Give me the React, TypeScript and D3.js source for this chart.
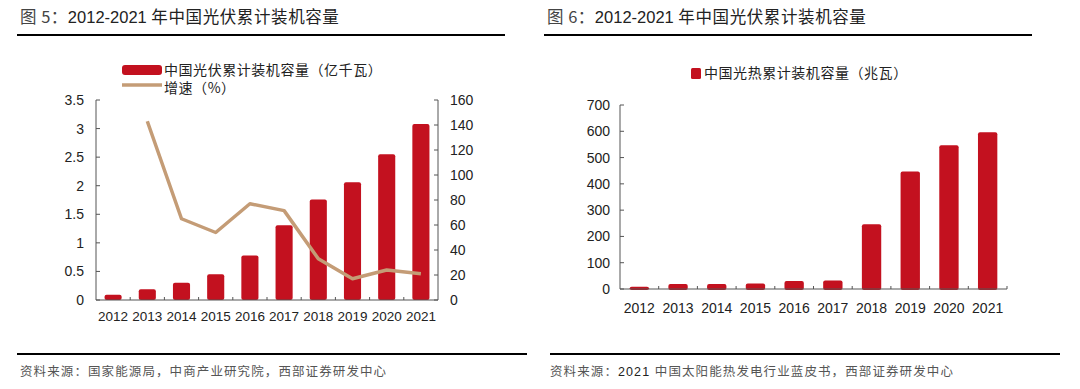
import React from 'react';
import * as d3 from 'd3';

const years = ['2012', '2013', '2014', '2015', '2016', '2017', '2018', '2019', '2020', '2021'];
// 图5: 光伏累计装机容量（亿千瓦）与增速（%）
const pvCapacity = [0.09, 0.19, 0.3, 0.45, 0.78, 1.31, 1.76, 2.06, 2.55, 3.08];
const pvGrowth: (number | null)[] = [null, 143, 65, 54, 77, 71.5, 33, 17, 24, 21];
const pvLeftTicks = [0, 0.5, 1, 1.5, 2, 2.5, 3, 3.5];
const pvRightTicks = [0, 20, 40, 60, 80, 100, 120, 140, 160];
// 图6: 光热累计装机容量（兆瓦）
const cspCapacity = [9, 19, 19, 21, 30, 32, 246, 447, 547, 596];
const cspTicks = [0, 100, 200, 300, 400, 500, 600, 700];

const RED = '#C3111F';
const TAN = '#C49C76';
const NUM_FONT = '"Liberation Sans", Arial, sans-serif';
const CJK_FONT = '"Noto Sans CJK SC", "Liberation Sans", sans-serif';

const fmt = (v: number) => String(v);

const PvChart: React.FC = () => {
  const x = d3.scaleBand<string>().domain(years).range([96, 438]).paddingInner(0.5).paddingOuter(0.25);
  const yL = d3.scaleLinear().domain([0, 3.5]).range([300, 100]);
  const yR = d3.scaleLinear().domain([0, 160]).range([300, 100]);
  const step = x.step();
  const line = d3.line<number | null>()
    .defined(d => d !== null)
    .x((_, i) => (x(years[i]) as number) + x.bandwidth() / 2)
    .y(d => yR(d as number));

  return (
    <g>
      <text x={20} y={23} fontSize={16.5} fill="#222" fontFamily={CJK_FONT}>
        <tspan fill="#444" letterSpacing={0.5}>图 5：</tspan>
        <tspan fontFamily={NUM_FONT}>2012-2021 </tspan>
        <tspan letterSpacing={0.6}>年中国光伏累计装机容量</tspan>
      </text>
      <line x1={17} x2={505} y1={35} y2={35} stroke="#000" strokeWidth={2} />

      {/* legend */}
      <rect x={122} y={65} width={40} height={10} fill={RED} rx={3} />
      <text x={164} y={75} fontSize={14} letterSpacing={0.55} fill="#222" fontFamily={CJK_FONT}>中国光伏累计装机容量（亿千瓦）</text>
      <line x1={122} x2={162} y1={85} y2={85} stroke={TAN} strokeWidth={3.5} />
      <text x={164} y={93} fontSize={14} letterSpacing={0.55} fill="#222" fontFamily={CJK_FONT}>增速（%）</text>

      {/* bars */}
      {pvCapacity.map((v, i) => (
        <rect key={years[i]} x={x(years[i])} y={yL(v)} width={x.bandwidth()} height={yL(0) - yL(v)}
          fill={RED} rx={2} />
      ))}

      {/* axes */}
      <line x1={96} x2={96} y1={100} y2={300} stroke="#555" />
      <line x1={438} x2={438} y1={100} y2={300} stroke="#555" />
      <line x1={96} x2={438} y1={300} y2={300} stroke="#555" />
      {pvLeftTicks.map(t => (
        <g key={'l' + t}>
          <line x1={96} x2={100} y1={yL(t)} y2={yL(t)} stroke="#555" />
          <text x={84} y={yL(t) + 5} textAnchor="end" fontSize={14} fill="#222" fontFamily={NUM_FONT}>{fmt(t)}</text>
        </g>
      ))}
      {pvRightTicks.map(t => (
        <g key={'r' + t}>
          <line x1={434} x2={438} y1={yR(t)} y2={yR(t)} stroke="#555" />
          <text x={450} y={yR(t) + 5} fontSize={14} fill="#222" fontFamily={NUM_FONT}>{fmt(t)}</text>
        </g>
      ))}
      {years.map((yr, i) => (
        <g key={yr}>
          {i > 0 && <line x1={96 + i * step} x2={96 + i * step} y1={300} y2={297} stroke="#555" />}
          <text x={(x(yr) as number) + x.bandwidth() / 2} y={321} textAnchor="middle" fontSize={13.5}
            fill="#222" fontFamily={NUM_FONT}>{yr}</text>
        </g>
      ))}

      <path d={line(pvGrowth) || ''} fill="none" stroke={TAN} strokeWidth={3.5} strokeLinejoin="round" />

      <line x1={17} x2={527} y1={354} y2={354} stroke="#000" strokeWidth={2} />
      <text x={20} y={376} fontSize={12.5} letterSpacing={1.1} fill="#555" fontFamily={CJK_FONT}>资料来源：国家能源局，中商产业研究院，西部证券研发中心</text>
    </g>
  );
};

const CspChart: React.FC = () => {
  const x = d3.scaleBand<string>().domain(years).range([620, 1007]).paddingInner(0.5).paddingOuter(0.25);
  const y = d3.scaleLinear().domain([0, 700]).range([289, 105]);
  const step = x.step();

  return (
    <g>
      <text x={547} y={23} fontSize={16.5} fill="#222" fontFamily={CJK_FONT}>
        <tspan fill="#444" letterSpacing={0.5}>图 6：</tspan>
        <tspan fontFamily={NUM_FONT}>2012-2021 </tspan>
        <tspan letterSpacing={0.6}>年中国光伏累计装机容量</tspan>
      </text>
      <line x1={544} x2={1032} y1={35} y2={35} stroke="#000" strokeWidth={2} />

      <rect x={691} y={68} width={10} height={11} fill={RED} rx={1.5} />
      <text x={704} y={78} fontSize={14} letterSpacing={0.55} fill="#222" fontFamily={CJK_FONT}>中国光热累计装机容量（兆瓦）</text>

      {cspCapacity.map((v, i) => (
        <rect key={years[i]} x={x(years[i])} y={y(v)} width={x.bandwidth()} height={y(0) - y(v) + 1}
          fill={RED} rx={2} />
      ))}

      <line x1={620} x2={620} y1={105} y2={289} stroke="#555" />
      <line x1={620} x2={1007} y1={289} y2={289} stroke="#555" />
      {cspTicks.map(t => (
        <g key={t}>
          <line x1={620} x2={624} y1={y(t)} y2={y(t)} stroke="#555" />
          <text x={610} y={y(t) + 5} textAnchor="end" fontSize={14} fill="#222" fontFamily={NUM_FONT}>{t}</text>
        </g>
      ))}
      {years.map((yr, i) => (
        <g key={yr}>
          <line x1={620 + (i + 1) * step} x2={620 + (i + 1) * step} y1={289} y2={286} stroke="#555" />
          <text x={(x(yr) as number) + x.bandwidth() / 2} y={313} textAnchor="middle" fontSize={14}
            fill="#222" fontFamily={NUM_FONT}>{yr}</text>
        </g>
      ))}

      <line x1={550} x2={1060} y1={354} y2={354} stroke="#000" strokeWidth={2} />
      <text x={550} y={376} fontSize={12.5} letterSpacing={1.1} fill="#555" fontFamily={CJK_FONT}>
        资料来源：<tspan fontFamily={NUM_FONT} fill="#222">2021 </tspan>中国太阳能热发电行业蓝皮书，西部证券研发中心
      </text>
    </g>
  );
};

export default function App() {
  return (
    <svg width={1080} height={389} style={{ position: 'absolute', left: 0, top: 0, background: '#fff' }}>
      <rect width={1080} height={389} fill="#fff" />
      <PvChart />
      <CspChart />
    </svg>
  );
}
